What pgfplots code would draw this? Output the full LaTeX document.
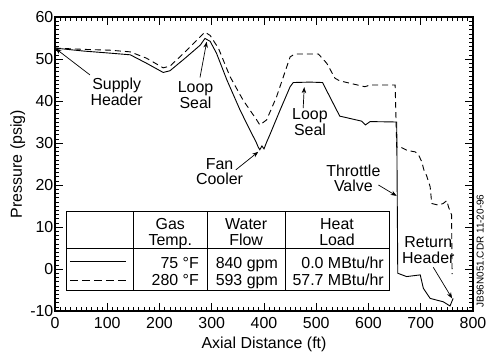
\documentclass[border=0pt]{standalone}
\usepackage{fontspec}
\setmainfont{Liberation Sans}
\usepackage{pgfplots}
\pgfplotsset{compat=1.18}
\usetikzlibrary{arrows.meta}
\begin{document}
\fontsize{16}{16}\selectfont
\begin{tikzpicture}[>={Stealth[length=6bp,width=4.5bp]}]
\begin{axis}[name=ax, scale only axis, width=418bp, height=294bp,
  xmin=0, xmax=800, ymin=-10, ymax=60,
  xtick={0,100,...,800}, ytick={-10,0,...,60},
  minor x tick num=9, minor y tick num=9,
  tick align=inside, major tick length=8bp, minor tick length=4bp,
  axis line style={line width=1.4bp},
  every tick/.style={black, line width=0.6bp},
  tick label style={font=\fontsize{16}{16}\selectfont, inner sep=1.5bp},
  xticklabel style={yshift=-5bp},
  /pgf/number format/assume math mode=true,
  xlabel={Axial Distance (ft)}, ylabel={Pressure (psig)},
  label style={font=\fontsize{16}{16}\selectfont},
  xlabel style={yshift=-1bp},
  ylabel style={yshift=-2bp},
  clip=false,
]
\addplot[black, line width=0.9bp] coordinates {
(0,52.6)(54,51.9)(105,51.4)(144,51.0)(175,49.0)(207,46.8)(220,47.2)(250,50.3)(278,53.3)(287,54.9)(297,54.2)(309,51.4)(329,45)(354,37.9)(373,33.1)(385,30.2)(389,29.0)(392,28.4)(396,29.3)(400,28.6)(405,30.2)(411,31.9)(431,37.9)(450,43.4)(456,44.4)(488,44.5)(512,44.4)(528,40.5)(545,36.4)(587,35.2)(594,34.3)(603,35.1)(654,35.0)(656,-1.0)(660,-1.2)(673,-1.8)(686,-1.6)(699,-1.4)(705,-4.6)(718,-7.0)(743,-7.8)(756,-8.8)(762,-7.0)
};
\addplot[black, line width=0.9bp, dash pattern=on 6bp off 4bp] coordinates {
(0,52.6)(54,52.3)(105,52.1)(144,51.7)(175,50.2)(207,47.9)(220,48.3)(250,51.8)(278,55.3)(287,56.4)(297,55.6)(313,52.5)(335,45.8)(360,40.2)(386,35.5)(392,34.3)(405,35.5)(424,41)(450,50.5)(459,51.2)(504,51.2)(520,49)(536,45.4)(545,44.8)(593,43.4)(603,43.8)(651,43.8)(654,29.0)(660,29.1)(673,28.3)(684,28.0)(689,27.9)(695,27.4)(702,25.5)(706,23.6)(711,22.3)(718,19.6)(721,15.6)(734,15.2)(743,15.6)(750,16.3)(753,14.8)(759,12.9)(760,-1.2)
};
% annotations
\node[align=center, inner sep=0] at (118,42.3) {Supply\\Header};
\draw[->, line width=0.7bp] (67,46.2) -- (1,52.5);
\node[align=center, inner sep=0] at (269,41.3) {Loop\\Seal};
\draw[->, line width=0.7bp] (277.5,45.6) -- (290.3,54.1);
\node[align=center, inner sep=0] at (315,23.2) {Fan\\Cooler};
\draw[->, line width=0.7bp] (346,23.6) -- (389,27.9);
\node[align=center, inner sep=0] at (488,34.9) {Loop\\Seal};
\draw[->, line width=0.7bp] (475,38.3) -- (477,43.3);
\node[align=center, inner sep=0] at (571,21.6) {Throttle\\Valve};
\draw[->, line width=0.7bp] (619,20) -- (654,17.4);
\node[align=center, inner sep=0] at (714.5,4.5) {Return\\Header};
\draw[->, line width=0.7bp] (724,0.4) -- (760,-7);
% legend table
\draw[line width=0.8bp, fill=white] (22.4,13.64) rectangle (639.2,-5.0);
\draw[line width=0.6bp] (22.4,4.93) -- (639.2,4.93);
\draw[line width=0.5bp] (149.9,13.64) -- (149.9,-5.0);
\draw[line width=0.5bp] (291.5,13.64) -- (291.5,-5.0);
\draw[line width=0.5bp] (440.2,13.64) -- (440.2,-5.0);
\draw[black, line width=0.9bp] (28.7,1.7) -- (135.9,1.7);
\draw[black, line width=0.9bp, dash pattern=on 8bp off 4bp] (28.7,-2.78) -- (135.9,-2.78);
\node[anchor=base, inner sep=0] at (220.7,9.29) {Gas};
\node[anchor=base, inner sep=0] at (220.7,5.48) {Temp.};
\node[anchor=base, inner sep=0] at (365.9,9.29) {Water};
\node[anchor=base, inner sep=0] at (365.9,5.48) {Flow};
\node[anchor=base, inner sep=0] at (539.7,9.29) {Heat};
\node[anchor=base, inner sep=0] at (539.7,5.48) {Load};
\node[anchor=base east, inner sep=0] at (275.6,0.17) {75 °F};
\node[anchor=base east, inner sep=0] at (275.6,-3.81) {280 °F};
\node[anchor=base east, inner sep=0] at (426.8,0.17) {840 gpm};
\node[anchor=base east, inner sep=0] at (426.8,-3.81) {593 gpm};
\node[anchor=base east, inner sep=0] at (629.7,0.17) {0.0 MBtu/hr};
\node[anchor=base east, inner sep=0] at (629.7,-3.81) {57.7 MBtu/hr};
\node[rotate=90, inner sep=0, font=\fontsize{10}{10}\selectfont] at (814,4.3) {JB96N051.CDR 11-20-96};
\end{axis}
\pgfresetboundingbox
\path ([xshift=-55bp,yshift=-40bp]ax.south west) rectangle ([xshift=17bp,yshift=17bp]ax.north east);
\end{tikzpicture}
\end{document}
